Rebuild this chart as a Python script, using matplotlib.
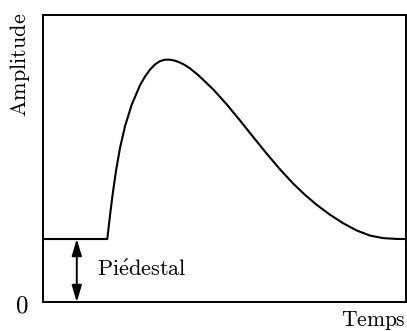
import matplotlib
matplotlib.use("Agg")
import matplotlib.pyplot as plt

plt.rcParams["mathtext.fontset"] = "cm"

# pulse shape sitting on a pedestal (arbitrary units, pedestal = 1)
temps = [0.0, 1.77, 1.846, 1.92, 2.011, 2.121, 2.259, 2.444, 2.672, 2.81,
         2.948, 3.085, 3.223, 3.361, 3.499, 3.636, 3.774, 3.912, 4.05, 4.278,
         4.691, 5.061, 5.427, 5.793, 6.163, 6.529, 6.895, 7.218, 7.54, 7.906,
         8.273, 8.642, 9.008, 9.375, 9.744, 10.0]
amplitude = [1.0, 1.0, 1.38, 1.72, 2.084, 2.447, 2.792, 3.134, 3.442, 3.58,
             3.69, 3.772, 3.824, 3.847, 3.847, 3.831, 3.801, 3.76, 3.708, 3.601,
             3.374, 3.137, 2.881, 2.617, 2.354, 2.105, 1.878, 1.7, 1.542, 1.385,
             1.249, 1.135, 1.054, 1.014, 1.001, 1.0]
piedestal = 1.0
x_fleche = 0.93

fig = plt.figure(figsize=(4.07, 3.31), dpi=100)
ax = fig.add_axes([0.1057, 0.0876, 0.892, 0.867])

ax.plot(temps, amplitude, color="black", lw=1.5,
        solid_joinstyle="round", solid_capstyle="butt")

# double arrow between 0 and the pedestal level
ax.annotate("", xy=(x_fleche, 0), xytext=(x_fleche, piedestal),
            arrowprops=dict(arrowstyle="<|-|>,head_length=1.0,head_width=0.3",
                            color="black", lw=1.4, shrinkA=0, shrinkB=0))
ax.text(1.48, 0.413, r"$\mathrm{Pi\acute{e}destal}$", fontsize=16,
        ha="left", va="baseline")

ax.set_xlim(0, 10)
ax.set_ylim(0, 4.556)
ax.set_xticks([])
ax.set_yticks([])
for s in ax.spines.values():
    s.set_linewidth(1.4)

ax.text(-0.063, 1.007, r"$\mathrm{Amplitude}$", transform=ax.transAxes,
        rotation=90, fontsize=16, ha="center", va="top")
ax.text(1.0, -0.083, r"$\mathrm{Temps}$", transform=ax.transAxes,
        fontsize=15.5, ha="right", va="baseline")
ax.text(-0.059, -0.038, r"$0$", transform=ax.transAxes,
        fontsize=18, ha="center", va="baseline")

fig.savefig("out.png", dpi=100)
